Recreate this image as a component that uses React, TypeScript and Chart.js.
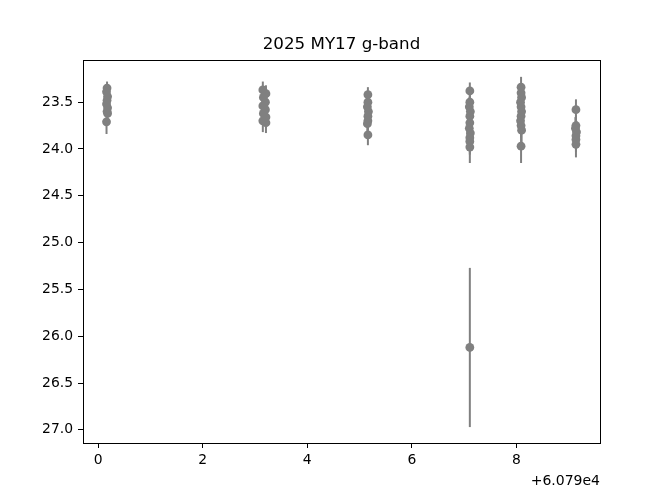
import { useEffect, useRef } from "react"
import { Chart, registerables } from "chart.js"

Chart.register(...registerables)

// Observation times (days, relative to 60790 MJD)
const times = [
  0.17, 0.16, 0.18, 0.17, 0.16, 0.18, 0.17, 0.18, 0.16,
  3.15, 3.21, 3.16, 3.20, 3.15, 3.20, 3.16, 3.21, 3.15, 3.21,
  5.16, 5.16, 5.15, 5.17, 5.16, 5.16, 5.15, 5.16,
  7.11, 7.11, 7.10, 7.12, 7.11, 7.11, 7.10, 7.12, 7.11, 7.11, 7.11, 7.11,
  8.09, 8.09, 8.10, 8.08, 8.09, 8.10, 8.09, 8.08, 8.09, 8.10, 8.09,
  9.14, 9.14, 9.13, 9.15, 9.14, 9.14, 9.14,
]
const mags = [
  23.35, 23.39, 23.44, 23.48, 23.52, 23.56, 23.60, 23.62, 23.71,
  23.37, 23.41, 23.45, 23.50, 23.54, 23.58, 23.62, 23.66, 23.70, 23.72,
  23.42, 23.50, 23.55, 23.60, 23.65, 23.70, 23.73, 23.85,
  23.38, 23.50, 23.55, 23.60, 23.65, 23.72, 23.78, 23.83, 23.88, 23.92, 23.98, 26.12,
  23.34, 23.40, 23.45, 23.50, 23.55, 23.60, 23.65, 23.70, 23.75, 23.80, 23.97,
  23.58, 23.75, 23.78, 23.82, 23.86, 23.90, 23.95,
]
const magErrs = [
  0.07, 0.08, 0.08, 0.09, 0.09, 0.10, 0.10, 0.11, 0.13,
  0.09, 0.09, 0.10, 0.09, 0.10, 0.10, 0.11, 0.11, 0.12, 0.11,
  0.08, 0.09, 0.09, 0.10, 0.10, 0.10, 0.11, 0.11,
  0.09, 0.10, 0.10, 0.11, 0.11, 0.12, 0.12, 0.13, 0.14, 0.14, 0.17, 0.85,
  0.11, 0.10, 0.10, 0.11, 0.11, 0.12, 0.12, 0.13, 0.13, 0.14, 0.18,
  0.11, 0.11, 0.12, 0.12, 0.13, 0.13, 0.14,
]
const xTicks = [0, 2, 4, 6, 8]
const yTicks = [23.5, 24.0, 24.5, 25.0, 25.5, 26.0, 26.5, 27.0]
const title = "2025 MY17 g-band"
const offsetText = "+6.079e4"

const FONT = "'DejaVu Sans', sans-serif"

// vertical error bars, drawn under the markers
const errorBarPlugin = {
  id: "errorBars",
  beforeDatasetsDraw: (chart: any) => {
    const ctx = chart.ctx
    const xs = chart.scales.x
    const ys = chart.scales.y
    ctx.save()
    ctx.strokeStyle = "#808080"
    ctx.lineWidth = 2
    times.forEach((t, i) => {
      const px = xs.getPixelForValue(t)
      ctx.beginPath()
      ctx.moveTo(px, ys.getPixelForValue(mags[i] - magErrs[i]))
      ctx.lineTo(px, ys.getPixelForValue(mags[i] + magErrs[i]))
      ctx.stroke()
    })
    ctx.restore()
  },
}

// frame box, title over the axes, axis offset text
const framePlugin = {
  id: "frame",
  afterDraw: (chart: any) => {
    const { ctx, chartArea } = chart
    ctx.save()
    ctx.strokeStyle = "#000"
    ctx.lineWidth = 1
    ctx.strokeRect(chartArea.left + 0.5, chartArea.top + 0.5, chartArea.right - chartArea.left, chartArea.bottom - chartArea.top)
    ctx.fillStyle = "#000"
    ctx.textBaseline = "middle"
    ctx.font = `16.7px ${FONT}`
    ctx.textAlign = "center"
    ctx.fillText(title, (chartArea.left + chartArea.right) / 2, chartArea.top - 15)
    ctx.font = `14px ${FONT}`
    ctx.textAlign = "right"
    ctx.fillText(offsetText, chartArea.right, chartArea.bottom + 38)
    ctx.restore()
  },
}

export default function App() {
  const canvasRef = useRef<HTMLCanvasElement>(null)
  const chartRef = useRef<Chart | null>(null)

  useEffect(() => {
    if (!canvasRef.current) return
    if (chartRef.current) chartRef.current.destroy()

    chartRef.current = new Chart(canvasRef.current, {
      type: "scatter",
      data: {
        datasets: [{
          data: times.map((t, i) => ({ x: t, y: mags[i] })),
          backgroundColor: "#808080",
          borderColor: "#808080",
          pointRadius: 4.4,
          pointBorderWidth: 0,
        }],
      },
      options: {
        animation: false,
        responsive: true,
        maintainAspectRatio: false,
        layout: { padding: { left: 0, right: 66, top: 60, bottom: 0 } },
        plugins: {
          legend: { display: false },
          tooltip: { enabled: false },
        },
        scales: {
          x: {
            type: "linear",
            min: -0.29,
            max: 9.6,
            afterFit: (s: any) => { s.height = 57 },
            afterBuildTicks: (s: any) => { s.ticks = xTicks.map(v => ({ value: v })) },
            grid: { drawOnChartArea: false, drawTicks: true, tickLength: 5, color: "#000" },
            border: { display: true, color: "#000" },
            ticks: {
              color: "#000",
              padding: 4,
              maxRotation: 0,
              font: { family: FONT, size: 13.9 },
              callback: (v: any) => String(v),
            },
          },
          y: {
            type: "linear",
            reverse: true,
            min: 23.05,
            max: 27.14,
            afterFit: (s: any) => { s.width = 83 },
            afterBuildTicks: (s: any) => { s.ticks = yTicks.map(v => ({ value: v })) },
            grid: { drawOnChartArea: false, drawTicks: true, tickLength: 5, color: "#000" },
            border: { display: true, color: "#000" },
            ticks: {
              color: "#000",
              padding: 5,
              font: { family: FONT, size: 13.9 },
              callback: (v: any) => Number(v).toFixed(1),
            },
          },
        },
      },
      plugins: [errorBarPlugin, framePlugin],
    } as any)

    return () => {
      if (chartRef.current) {
        chartRef.current.destroy()
        chartRef.current = null
      }
    }
  }, [])

  return (
    <div style={{ position: "fixed", left: 0, top: 0, width: 666, height: 500, background: "#fff" }}>
      <canvas ref={canvasRef} />
    </div>
  )
}
